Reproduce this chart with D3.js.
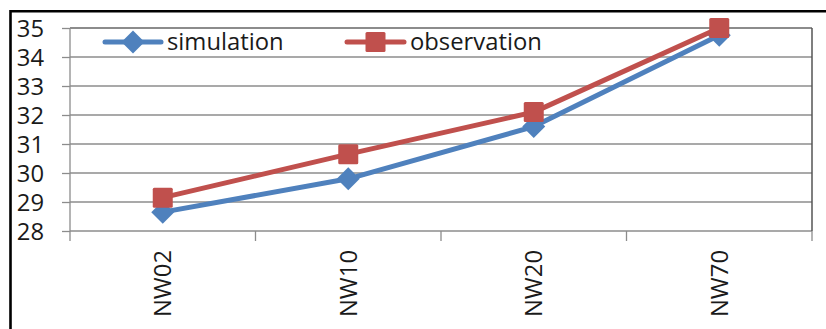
<!DOCTYPE html>
<html>
<head>
<meta charset="utf-8">
<script src="https://cdn.jsdelivr.net/npm/d3@7"></script>
<style>
  html, body { margin: 0; padding: 0; background: #fff; }
  svg { display: block; }
  text { font-family: "Open Sans", "Liberation Sans", sans-serif; fill: #1a1a1a; }
</style>
</head>
<body>
<svg id="chart" width="826" height="329"></svg>
<script>
// Sites along the x axis
const categories = ["NW02", "NW10", "NW20", "NW70"];
// Modelled and measured values per site
const simulation = [28.65, 29.8, 31.6, 34.75];
const observation = [29.15, 30.65, 32.1, 35.0];
// Value axis ticks
const yTicks = [28, 29, 30, 31, 32, 33, 34, 35];

const seriesList = [
  { name: "simulation", values: simulation, color: "#4F81BD", marker: "diamond" },
  { name: "observation", values: observation, color: "#C0504D", marker: "square" }
];

const svg = d3.select("#chart");
const plot = { left: 70, right: 812, top: 28, bottom: 231 };

const x = d3.scaleBand().domain(categories).range([plot.left, plot.right]);
const y = d3.scaleLinear().domain([28, 35]).range([plot.bottom, plot.top]);

// Outer frame (top and left edges)
svg.append("path")
  .attr("d", `M10.5,329 L10.5,11.3 L826,11.3`)
  .attr("fill", "none").attr("stroke", "#000").attr("stroke-width", 2.6);

// Horizontal gridlines
svg.append("g").selectAll("line").data(yTicks).join("line")
  .attr("x1", plot.left).attr("x2", plot.right)
  .attr("y1", d => y(d)).attr("y2", d => y(d))
  .attr("stroke", d => d === 35 ? "#666" : "#8c8c8c").attr("stroke-width", 1.3);

// Plot area right edge
svg.append("line")
  .attr("x1", plot.right).attr("x2", plot.right)
  .attr("y1", plot.top).attr("y2", plot.bottom)
  .attr("stroke", "#555").attr("stroke-width", 1.5);

// Value axis
const yAxis = svg.append("g")
  .attr("transform", `translate(${plot.left},0)`)
  .call(d3.axisLeft(y).tickValues(yTicks).tickSize(8).tickPadding(18).tickFormat(d3.format("d")));
yAxis.select(".domain").attr("stroke", "#8c8c8c").attr("stroke-width", 1.3)
  .attr("d", `M0,${plot.top}V${plot.bottom}`);
yAxis.selectAll(".tick line").attr("stroke", "#8c8c8c").attr("stroke-width", 1.3);
yAxis.selectAll(".tick text")
  .attr("font-size", 23.8).attr("font-family", "'Open Sans', sans-serif")
  .attr("fill", "#1a1a1a").attr("dy", "0.36em");

// Category axis
const xAxis = svg.append("g")
  .attr("transform", `translate(0,${plot.bottom})`)
  .call(d3.axisBottom(x).tickSize(0).tickFormat(d => d));
xAxis.select(".domain").remove();
xAxis.selectAll(".tick text")
  .attr("font-size", 23.8).attr("font-family", "'Open Sans', sans-serif")
  .attr("fill", "#1a1a1a")
  .attr("text-anchor", "end")
  .attr("transform", "translate(0,19) rotate(-90)")
  .attr("x", 0).attr("y", 0).attr("dy", "0.36em");

// Category boundary ticks
const bounds = categories.map(c => x(c)).concat([plot.right]);
svg.append("g").selectAll("line").data(bounds).join("line")
  .attr("x1", d => d).attr("x2", d => d)
  .attr("y1", plot.bottom).attr("y2", plot.bottom + 10)
  .attr("stroke", "#8c8c8c").attr("stroke-width", 1.3);

const cx = c => x(c) + x.bandwidth() / 2;
const line = d3.line().x((d, i) => cx(categories[i])).y(d => y(d));

function drawMarker(g, type, px, py, color) {
  if (type === "diamond") {
    const h = 11.5;
    g.append("path")
      .attr("d", `M${px},${py - h}L${px + h},${py}L${px},${py + h}L${px - h},${py}Z`)
      .attr("fill", color);
  } else {
    const s = 10;
    g.append("rect")
      .attr("x", px - s).attr("y", py - s).attr("width", 2 * s).attr("height", 2 * s)
      .attr("rx", 1.5).attr("fill", color);
  }
}

// Series lines and markers
seriesList.forEach(s => {
  const g = svg.append("g");
  g.append("path").datum(s.values)
    .attr("d", line).attr("fill", "none")
    .attr("stroke", s.color).attr("stroke-width", 5).attr("stroke-linejoin", "round");
  s.values.forEach((v, i) => drawMarker(g, s.marker, cx(categories[i]), y(v), s.color));
});

// Legend
const legendItems = [
  { x0: 105, x1: 161, tx: 167 },
  { x0: 347, x1: 404, tx: 410 }
];
const ly = 42;
seriesList.forEach((s, i) => {
  const L = legendItems[i];
  const g = svg.append("g");
  g.append("line").attr("x1", L.x0).attr("x2", L.x1).attr("y1", ly).attr("y2", ly)
    .attr("stroke", s.color).attr("stroke-width", 5).attr("stroke-linecap", "round");
  drawMarker(g, s.marker, (L.x0 + L.x1) / 2, ly, s.color);
  g.append("text").attr("x", L.tx).attr("y", ly).attr("dy", "0.34em")
    .attr("font-size", 23.8).text(s.name);
});
</script>
</body>
</html>
